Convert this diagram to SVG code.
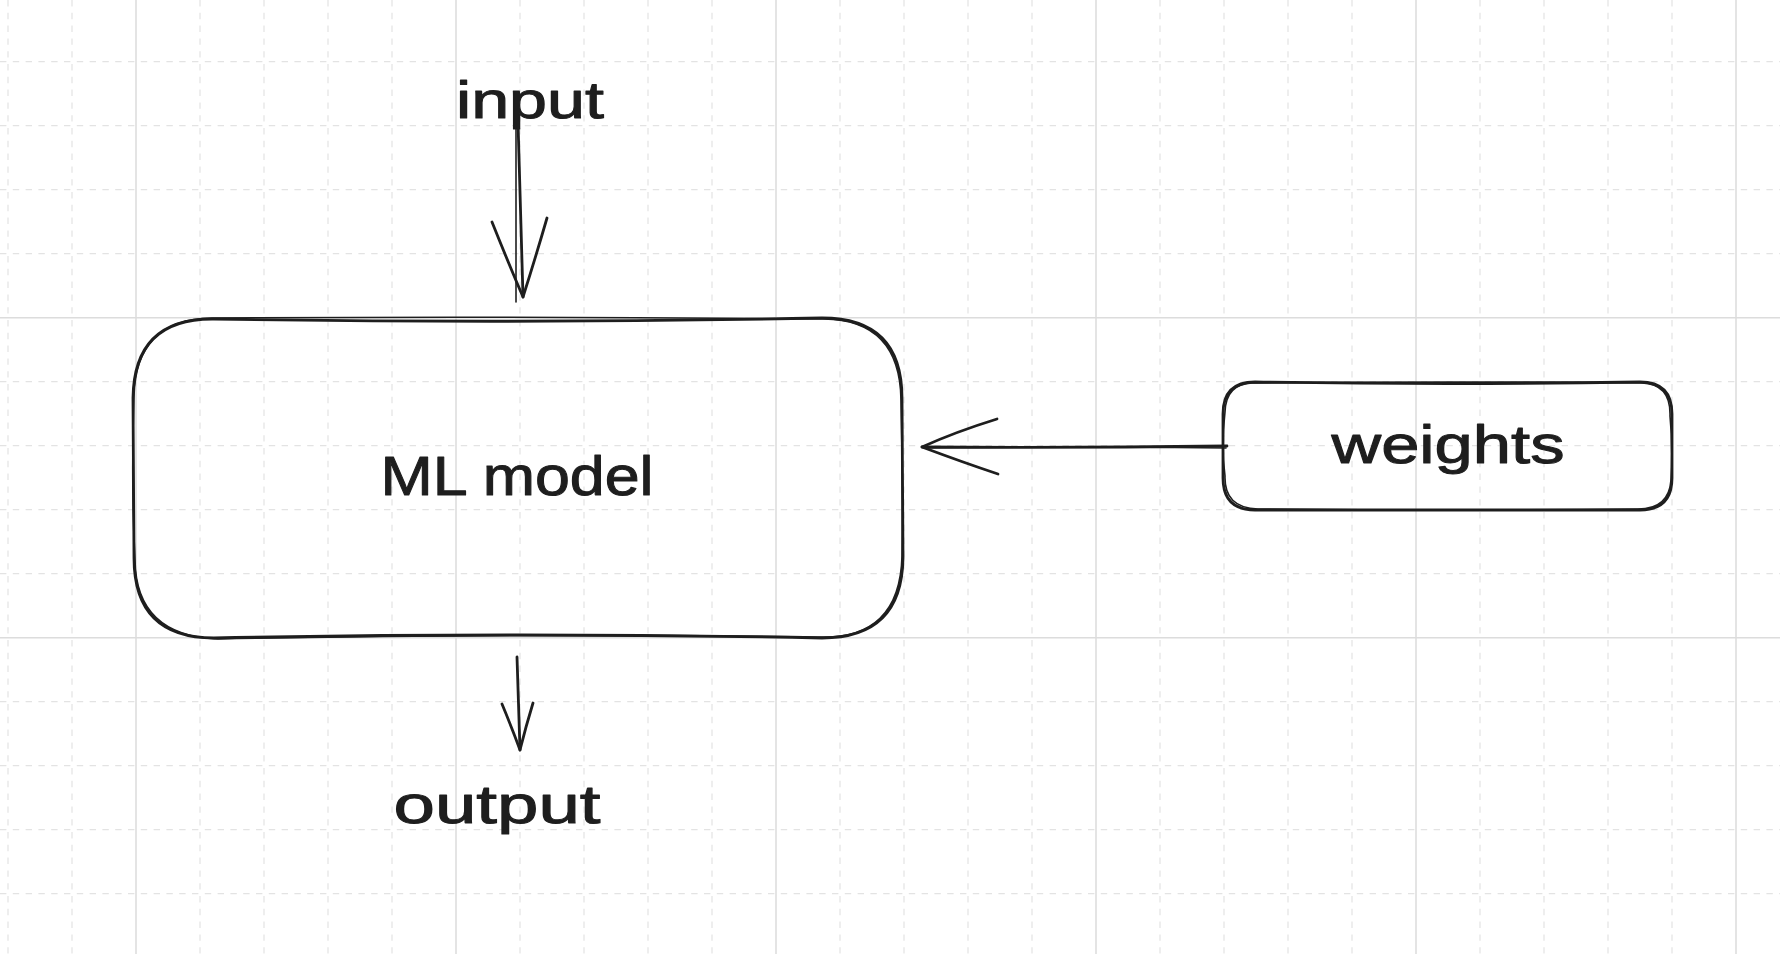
<svg xmlns="http://www.w3.org/2000/svg" width="1780" height="954" viewBox="0 0 1780 954">
<defs>
<style>
.minor{stroke:#e3e3e3;stroke-width:1.2;stroke-dasharray:6.4 6.4;fill:none}
.major{stroke:#dcdcdc;stroke-width:1.5;fill:none}
.ink{stroke:#1e1e1e;stroke-width:2.8;fill:none;stroke-linecap:round;stroke-linejoin:round}
.ink2{stroke:#1e1e1e;stroke-width:1.6;fill:none;stroke-linecap:round;stroke-linejoin:round}
.lbl{font-family:"Liberation Sans",Arial,sans-serif;fill:#1e1e1e;stroke:#1e1e1e;stroke-width:1;stroke-linejoin:round;text-anchor:middle}
</style>
</defs>
<rect x="0" y="0" width="1780" height="954" fill="#ffffff"/>
<g id="grid">
<path class="minor" d="M8 0V954M72 0V954M200 0V954M264 0V954M328 0V954M392 0V954M520 0V954M584 0V954M648 0V954M712 0V954M840 0V954M904 0V954M968 0V954M1032 0V954M1160 0V954M1224 0V954M1288 0V954M1352 0V954M1480 0V954M1544 0V954M1608 0V954M1672 0V954"/>
<path class="minor" d="M0 61.7H1780M0 125.7H1780M0 189.7H1780M0 253.7H1780M0 381.7H1780M0 445.7H1780M0 509.7H1780M0 573.7H1780M0 701.7H1780M0 765.7H1780M0 829.7H1780M0 893.7H1780"/>
<path class="major" d="M136 0V954M456 0V954M776 0V954M1096 0V954M1416 0V954M1736 0V954M0 317.7H1780M0 637.7H1780"/>
</g>
<g id="node-ml-model">
<path class="ink" d="M214 319 Q520 324 822 318 Q902 318 902 398 L903 558 Q902 638 822 638 Q520 632 214 638 Q134 638 134 558 L133 398 Q134 318 214 319 Z"/>
<path class="ink2" d="M212 318 Q518 316 824 319 Q900 320 901 400 Q903 480 902 556 Q900 640 818 637 Q520 633 218 639 Q136 636 135 560 Q131 480 134 396 Q136 319 212 318"/>
<text class="lbl" x="517" y="495" font-size="56" textLength="273" lengthAdjust="spacingAndGlyphs">ML model</text>
</g>
<g id="node-weights">
<path class="ink" d="M1255 382 Q1450 385 1640 382 Q1672 382 1672 414 L1672 478 Q1672 510 1640 510 L1255 510 Q1223 510 1223 478 L1223 414 Q1223 382 1255 382 Z"/>
<path class="ink2" d="M1252 383 Q1450 381 1642 383 Q1671 384 1670 416 Q1673 446 1671 480 Q1669 509 1638 509 Q1450 511 1258 509 Q1224 508 1225 476 Q1221 446 1225 412 Q1226 384 1252 383"/>
<text class="lbl" x="1448" y="463" font-size="54" textLength="233" lengthAdjust="spacingAndGlyphs">weights</text>
</g>
<g id="label-input">
<text class="lbl" x="530" y="118" font-size="52" textLength="148" lengthAdjust="spacingAndGlyphs">input</text>
</g>
<g id="label-output">
<text class="lbl" x="497" y="823" font-size="54" textLength="207" lengthAdjust="spacingAndGlyphs">output</text>
</g>
<g id="connectors">
<path class="ink" d="M518 122 L523 297"/>
<path class="ink2" d="M516 123 L516 302"/>
<path class="ink" d="M492 222 Q508 262 523 297 Q536 256 547 218"/>
<path class="ink" d="M517 657 L520 750"/>
<path class="ink" d="M502 704 Q512 728 520 750 Q526 726 533 703"/>
<path class="ink" d="M1227 446 Q1075 448 922 447"/>
<path class="ink2" d="M1226 448 Q1070 446 924 448"/>
<path class="ink" d="M997 419 Q955 432 922 447 Q962 462 998 474"/>
</g>
</svg>
